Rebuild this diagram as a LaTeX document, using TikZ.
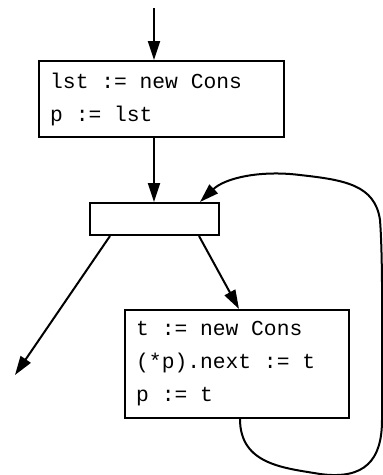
\documentclass[tikz,border=0pt]{standalone}
\usepackage{fontspec}
\newfontfamily\codefont{Liberation Mono}
\usetikzlibrary{arrows.meta,calc}
\begin{document}
\begin{tikzpicture}[x=1pt,y=-1pt,
  frame/.style={draw,line width=2pt,inner sep=0pt},
  code/.style={anchor=west,inner sep=0pt,align=left,
    font=\codefont\fontsize{21.3}{33}\selectfont},
  flow/.style={line width=2pt,-{Triangle[length=19pt,width=12pt]}}]
\useasboundingbox (0,0) rectangle (383,475);
% blocks
\node[frame,minimum width=245pt,minimum height=76pt] (init) at (161.5,99) {};
\node[code] (initcode) at ($(init.west)+(12,0)$) {lst := new Cons\\p := lst};
\node[frame,minimum width=129pt,minimum height=32pt] (test) at (154.5,219) {};
\node[frame,minimum width=224pt,minimum height=108pt] (body) at (237,364) {};
\node[code] (bodycode) at ($(body.west)+(12,0)$) {t := new Cons\\(*p).next := t\\p := t};
% free ends
\coordinate (entry) at (154,8);
\coordinate (exit) at (15,375);
% edges
\draw[flow] (entry) -- (entry |- init.north);
\draw[flow] (entry |- init.south) -- (entry |- test.north);
\draw[flow] ($(test.south west)+(21,0)$) -- (exit);
\draw[flow] ($(test.south east)+(-21,0)$) -- ($(body.north west)+(115,0)$);
\draw[flow] ($(body.south west)+(116,0)$)
  .. controls +(0,46) and (285,468) .. (320,474)
  .. controls (365,480) and (382,460) .. (382,420)
  .. controls (382,330) and (383,260) .. (380,220)
  .. controls (375,185) and (345,180) .. (300,175)
  .. controls (260,170) and (225,178) .. ($(test.north east)+(-20,0)$);
\end{tikzpicture}
\end{document}
